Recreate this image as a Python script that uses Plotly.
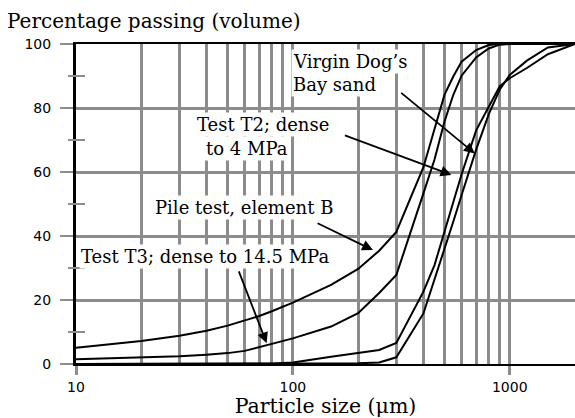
import math
import plotly.graph_objects as go

# Particle sizes (µm) shared by all curves
SIZES = [10, 20, 30, 40, 50, 60, 70, 80, 90, 100, 150, 200, 250, 300,
         400, 450, 500, 550, 600, 700, 800, 900, 1000, 1200, 1500, 2000]

# Percentage passing (volume) for each sample
PILE_B = [5.1, 7.2, 8.8, 10.4, 12.0, 13.5, 15.0, 16.5, 17.9, 19.2, 24.7, 29.7, 35.4, 41.3,
          61.5, 73.7, 84.1, 89.9, 94.5, 98.1, 99.7, 100, 100, 100, 100, 100]
TEST_T3 = [1.5, 2.0, 2.4, 2.9, 3.4, 4.1, 5.3, 6.3, 7.2, 8.0, 11.7, 15.9, 22.2, 27.8,
           53.3, 63.9, 75.7, 84.2, 90.1, 95.8, 98.6, 99.8, 100, 100, 100, 100]
TEST_T2 = [0, 0, 0, 0, 0, 0, 0.05, 0.1, 0.3, 0.5, 2.3, 3.5, 4.4, 6.6,
           22.6, 30.9, 41.4, 50.8, 59.3, 73.0, 80.5, 86.8, 89.3, 92.5, 96.8, 100]
VIRGIN = [0, 0, 0, 0, 0, 0, 0, 0, 0, 0, 0, 0.2, 0.5, 2.1,
          15.8, 26.2, 35.5, 44.6, 52.8, 67.0, 78.0, 85.8, 90.3, 94.8, 98.9, 100]

SERIES = [("Pile test, element B", PILE_B), ("Test T3; dense to 14.5 MPa", TEST_T3),
          ("Test T2; dense to 4 MPa", TEST_T2), ("Virgin Dog’s Bay sand", VIRGIN)]

X_TICKS = [10, 100, 1000]
X_TICK_TEXT = ["10", "100", "1000"]
X_MINOR = [20, 30, 40, 50, 60, 70, 80, 90, 200, 300, 400, 500, 600, 700, 800, 900]
Y_TICKS = [0, 20, 40, 60, 80, 100]
Y_MINOR = [10, 30, 50, 70, 90]

# Labels: (text, x of left edge, y of centre) and arrows (tail -> head), data units
LABELS = [
    ("Virgin Dog’s", 98.5, 94.4),
    ("Bay sand", 98.5, 87.5),
    ("Test T2; dense", 35.2, 74.8),
    ("to 4 MPa", 39.0, 67.5),
    ("Pile test, element B", 22.6, 48.8),
    ("Test T3; dense to 14.5 MPa", 10.3, 33.5),
]
ARROWS = [
    (311, 85.1, 690, 65.8),
    (171, 71.6, 538, 59.1),
    (128, 44.2, 234, 35.6),
    (56, 29.4, 75.7, 6.5),
]

GRID = "#8c8c8c"
SERIF = "DejaVu Serif"
SANS = "DejaVu Sans"

fig = go.Figure()
for name, vals in SERIES:
    fig.add_trace(go.Scatter(x=SIZES, y=vals, mode="lines", name=name,
                             line=dict(color="black", width=2), showlegend=False))

for text, x, y in LABELS:
    fig.add_annotation(x=math.log10(x), y=y, text=text, showarrow=False,
                       xanchor="left", yanchor="middle", bgcolor="white", borderpad=1,
                       font=dict(family=SERIF, size=18, color="black"))

for x0, y0, x1, y1 in ARROWS:
    fig.add_annotation(x=math.log10(x1), y=y1, ax=math.log10(x0), ay=y0,
                       axref="x", ayref="y", xref="x", yref="y", text="",
                       showarrow=True, arrowhead=2, arrowsize=1.2, arrowwidth=1.8,
                       arrowcolor="black")

for v in Y_MINOR:
    fig.add_shape(type="line", xref="paper", yref="y", x0=-8 / 499, x1=9 / 499,
                  y0=v, y1=v, line=dict(color=GRID, width=2))

fig.update_layout(
    width=575, height=418,
    margin=dict(l=76, r=0, t=44, b=54),
    paper_bgcolor="white", plot_bgcolor="white",
    title=dict(text="Percentage passing (volume)", x=7 / 575, xanchor="left",
               xref="container", y=1 - 21 / 418, yanchor="middle", yref="container",
               font=dict(family=SERIF, size=20, color="black")),
    xaxis=dict(type="log", range=[1, math.log10(2000)],
               tickvals=X_TICKS, ticktext=X_TICK_TEXT,
               ticks="outside", ticklen=9, tickwidth=3, tickcolor=GRID,
               showgrid=True, gridcolor=GRID, gridwidth=3,
               minor=dict(tickvals=X_MINOR, showgrid=True, gridcolor=GRID, gridwidth=3, ticks=""),
               showline=True, linecolor="black", linewidth=2, mirror=True,
               zeroline=False,
               tickfont=dict(family=SANS, size=14, color="black"),
               title=dict(text="Particle size (μm)", standoff=3,
                          font=dict(family=SERIF, size=20.5, color="black"))),
    yaxis=dict(range=[0, 100], tickvals=Y_TICKS,
               ticks="outside", ticklen=13, tickwidth=2, tickcolor=GRID,
               showgrid=True, gridcolor=GRID, gridwidth=2.5,
               showline=True, linecolor="black", linewidth=3,
               zeroline=False, ticklabelstandoff=6,
               tickfont=dict(family=SANS, size=14, color="black")),
)

fig.write_html("out.html", config={"displayModeBar": False},
               post_script="document.body.style.margin='0';document.body.style.overflow='hidden';")
